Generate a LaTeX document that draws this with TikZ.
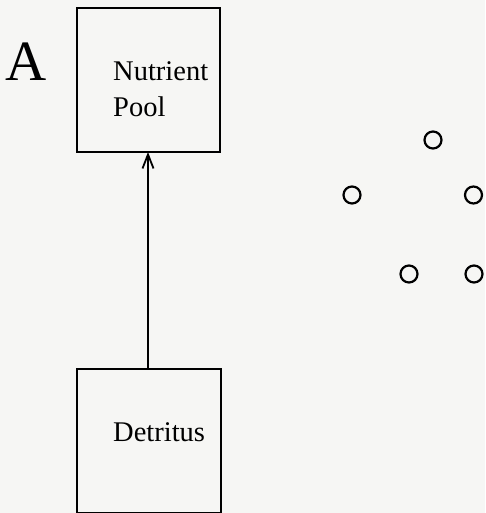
\documentclass[tikz,border=0pt]{standalone}
\usepackage{fontspec}
\setmainfont{Liberation Serif}
\usetikzlibrary{arrows.meta}
\definecolor{bg}{HTML}{F6F6F4}
\begin{document}
\begin{tikzpicture}[x=1pt,y=-1pt,
  box/.style={draw=black,line width=2.2pt},
  lbl/.style={font=\fontsize{28.5}{36}\selectfont,anchor=base west,inner sep=0pt},
  dot/.style={draw=black,line width=2.2pt,circle,minimum size=17pt,inner sep=0pt}]
\fill[bg] (0,0) rectangle (485,513);
\useasboundingbox (0,0) rectangle (485,513);
\draw[box] (77,8) rectangle (220,152);
\coordinate (npb) at (148,152);
\draw[box] (77,369) rectangle (221,513);
\coordinate (dtt) at (148,369);
\node[lbl] (np1) at (113,81) {Nutrient};
\node[lbl] (np2) at (113,117) {Pool};
\node[lbl] (det) at (113,441) {Detritus};
\node[font=\fontsize{57}{60}\selectfont,anchor=base west,inner sep=0pt] (A) at (5,81) {A};
\draw[line width=2pt,-{Straight Barb[length=14pt,width=11pt,line width=1.8pt]}] (dtt) -- (npb);
\node[dot] (c1) at (433,140) {};
\node[dot] (c2) at (352,195) {};
\node[dot] (c3) at (473.5,195) {};
\node[dot] (c4) at (409,274) {};
\node[dot] (c5) at (474,274) {};
\end{tikzpicture}
\end{document}
